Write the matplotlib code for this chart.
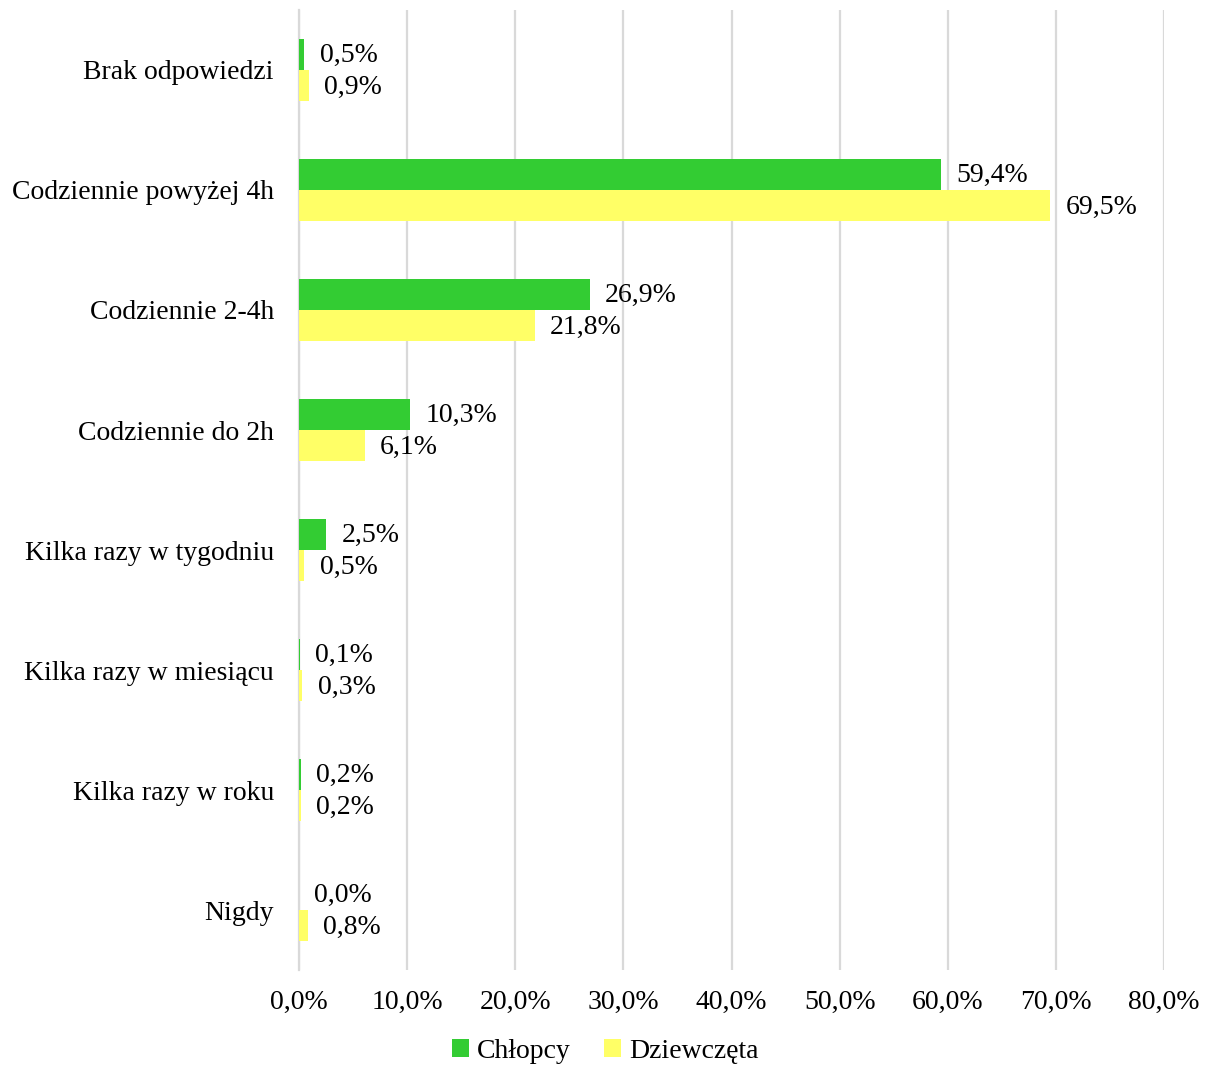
import matplotlib.pyplot as plt
import numpy as np

plt.rcParams['font.family'] = ['Liberation Serif', 'DejaVu Serif']

categories = ["Brak odpowiedzi", "Codziennie powyżej 4h", "Codziennie 2-4h",
              "Codziennie do 2h", "Kilka razy w tygodniu", "Kilka razy w miesiącu",
              "Kilka razy w roku", "Nigdy"]
chlopcy = [0.5, 59.4, 26.9, 10.3, 2.5, 0.1, 0.2, 0.0]
dziewczeta = [0.9, 69.5, 21.8, 6.1, 0.5, 0.3, 0.2, 0.8]
xticks = [0, 10, 20, 30, 40, 50, 60, 70, 80]

green = "#33cc33"
yellow = "#ffff66"

fig = plt.figure(figsize=(12.11, 10.72), dpi=100)
ax = fig.add_axes([0.2469, 0.0951, 0.9612 - 0.2469, 0.9907 - 0.0951])

y = np.arange(len(categories))
h = 0.26
b1 = ax.barh(y - h / 2, chlopcy, height=h, color=green, label="Chłopcy", zorder=3)
b2 = ax.barh(y + h / 2, dziewczeta, height=h, color=yellow, label="Dziewczęta", zorder=3)

fs = 20
for bars, vals in ((b1, chlopcy), (b2, dziewczeta)):
    for bar, v in zip(bars, vals):
        ax.annotate(f"{v:.1f}%".replace(".", ","),
                    (bar.get_width(), bar.get_y() + bar.get_height() / 2),
                    xytext=(11, -1), textcoords="offset points",
                    va="center", ha="left", fontsize=fs)

ax.set_ylim(len(categories) - 0.5, -0.5)
ax.set_xlim(0, 80)
ax.set_yticks(y)
ax.set_yticklabels(categories, fontsize=fs)
ax.set_xticks(xticks)
ax.set_xticklabels([f"{t:.1f}%".replace(".", ",") for t in xticks], fontsize=fs)
ax.tick_params(length=0)
ax.tick_params(axis="y", pad=18)
ax.tick_params(axis="x", pad=14)
ax.xaxis.grid(True, color="#d9d9d9", linewidth=1.6, zorder=0)
for s in ["top", "right", "bottom"]:
    ax.spines[s].set_visible(False)
ax.spines["left"].set_color("#d9d9d9")
ax.spines["left"].set_linewidth(1.6)

fig.legend(handles=[b1, b2], loc="lower center", bbox_to_anchor=(0.5, -0.013),
           ncol=2, frameon=False, fontsize=fs, handlelength=0.6, handleheight=0.6,
           handletextpad=0.3, columnspacing=1.2, borderpad=0.3)

fig.savefig("out.png", dpi=100)
